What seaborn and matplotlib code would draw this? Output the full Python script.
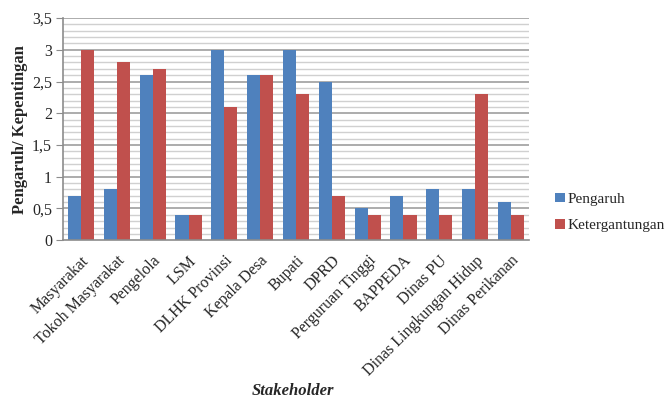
import matplotlib
matplotlib.use("Agg")
import matplotlib.pyplot as plt
import matplotlib.ticker as mticker
import pandas as pd
import seaborn as sns

stakeholders = [
    "Masyarakat", "Tokoh Masyarakat", "Pengelola", "LSM", "DLHK Provinsi",
    "Kepala Desa", "Bupati", "DPRD", "Perguruan Tinggi", "BAPPEDA",
    "Dinas PU", "Dinas Lingkungan Hidup", "Dinas Perikanan",
]
pengaruh = [0.7, 0.8, 2.6, 0.4, 3.0, 2.6, 3.0, 2.5, 0.5, 0.7, 0.8, 0.8, 0.6]
ketergantungan = [3.0, 2.8, 2.7, 0.4, 2.1, 2.6, 2.3, 0.7, 0.4, 0.4, 0.4, 2.3, 0.4]
series_names = ["Pengaruh", "Ketergantungan"]

df = pd.DataFrame({
    "Stakeholder": stakeholders * 2,
    "Nilai": pengaruh + ketergantungan,
    "Seri": [series_names[0]] * len(stakeholders) + [series_names[1]] * len(stakeholders),
})

sns.set_style("white")
plt.rcParams["font.family"] = ["Liberation Serif", "DejaVu Serif"]

fig = plt.figure(figsize=(6.72, 4.01), dpi=100)
ax = fig.add_axes([0.094, 0.401, 0.693, 0.554])

# minor and major horizontal grid
for v in [i / 10 for i in range(1, 36)]:
    major = abs(v * 2 - round(v * 2)) < 1e-9
    ax.axhline(v, color="#a6a6a6" if major else "#d0d0d0",
               lw=1.3 if major else 1.0, zorder=0)

sns.barplot(data=df, x="Stakeholder", y="Nilai", hue="Seri",
            palette=["#4f81bd", "#c0504d"], width=0.73, ax=ax,
            saturation=1, errorbar=None, zorder=2, linewidth=0)

ax.set_ylim(0, 3.5)
ax.set_xlim(-0.5, len(stakeholders) - 0.5)
ax.yaxis.set_major_locator(mticker.MultipleLocator(0.5))
ax.yaxis.set_major_formatter(mticker.FuncFormatter(
    lambda v, p: ("%g" % v).replace(".", ",")))
ax.tick_params(axis="y", which="major", length=5, color="#8c8c8c",
               labelsize=11.5, pad=3, left=True)
ax.tick_params(axis="x", length=0, labelsize=11.5, pad=9)
for lbl in ax.get_xticklabels():
    lbl.set_rotation(45)
    lbl.set_ha("right")
    lbl.set_rotation_mode("anchor")

for side in ["top", "right"]:
    ax.spines[side].set_visible(False)
ax.spines["left"].set_color("#8c8c8c")
ax.spines["bottom"].set_color("#8c8c8c")
ax.spines["left"].set_linewidth(1.2)
ax.spines["bottom"].set_linewidth(1.2)

ax.set_ylabel("Pengaruh/ Kepentingan", fontsize=12, fontweight="bold", labelpad=3)
ax.set_xlabel("")
fig.text(0.436, 0.005, "Stakeholder", fontsize=12, fontweight="bold",
         fontstyle="italic", ha="center", va="bottom")

handles, labels = ax.get_legend_handles_labels()
ax.legend(handles, labels, loc="center left", bbox_to_anchor=(1.044, 0.125),
          frameon=False, fontsize=11, handlelength=0.6, handleheight=0.6,
          handletextpad=0.2, labelspacing=0.85, borderaxespad=0)

fig.savefig("out.png", dpi=100)
